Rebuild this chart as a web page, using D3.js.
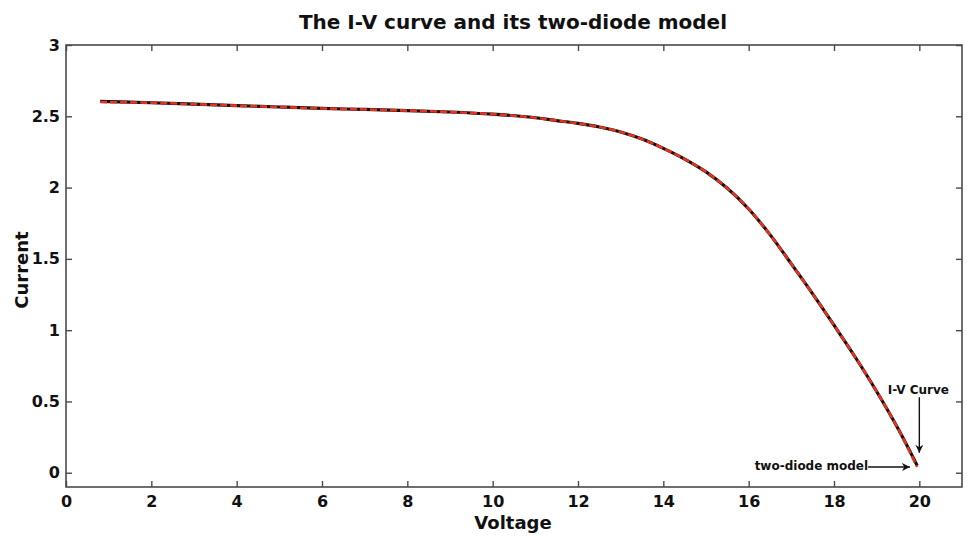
<!DOCTYPE html>
<html>
<head>
<meta charset="utf-8">
<script src="https://cdn.jsdelivr.net/npm/d3@7"></script>
<style>
  body { margin: 0; background: #fff; }
  svg { display: block; }
  text { font-family: "DejaVu Sans", "Liberation Sans", Arial, sans-serif; font-weight: bold; fill: #111; }
</style>
</head>
<body>
<svg id="chart" width="967" height="542"></svg>
<script>
// ---- data ----
const voltage = [0.8, 2, 3, 4, 5, 6, 7, 8, 9, 10, 11, 11.5, 12, 12.5, 13, 13.5, 14, 14.5, 15, 15.5, 16, 16.5, 17, 17.5, 18, 18.5, 19, 19.5, 19.95];
const ivCurrent = [2.605, 2.595, 2.585, 2.575, 2.565, 2.555, 2.548, 2.54, 2.53, 2.515, 2.49, 2.47, 2.45, 2.425, 2.39, 2.34, 2.275, 2.2, 2.11, 1.995, 1.85, 1.67, 1.465, 1.255, 1.035, 0.81, 0.57, 0.31, 0.05];
const modelCurrent = [2.6, 2.595, 2.585, 2.575, 2.565, 2.555, 2.548, 2.54, 2.53, 2.515, 2.49, 2.47, 2.45, 2.425, 2.39, 2.34, 2.275, 2.2, 2.11, 1.995, 1.85, 1.67, 1.465, 1.255, 1.035, 0.81, 0.57, 0.31, 0.04];
const xTicks = [0, 2, 4, 6, 8, 10, 12, 14, 16, 18, 20];
const yTicks = [0, 0.5, 1, 1.5, 2, 2.5, 3];
const title = "The I-V curve and its two-diode model";
const xLabel = "Voltage";
const yLabel = "Current";
const ivLabel = "I-V Curve";
const modelLabel = "two-diode model";

// ---- layout ----
const svg = d3.select("#chart");
const mLeft = 66, mRight = 962, mTop = 45, mBottom = 487;
const x = d3.scaleLinear().domain([0, 21]).range([mLeft, mRight]);
const y = d3.scaleLinear().domain([-0.1, 3]).range([mBottom, mTop]);
const axisColor = "#4a4a4a";

// title
svg.append("text").attr("x", 513).attr("y", 29).attr("text-anchor", "middle")
  .attr("font-size", 20).text(title);

// axes with inward ticks
const fmt = d => d3.format("")(d);
const gx = svg.append("g").attr("transform", `translate(0,${mBottom})`)
  .call(d3.axisBottom(x).tickValues(xTicks).tickSizeInner(-6).tickSizeOuter(0).tickPadding(9).tickFormat(fmt));
const gxTop = svg.append("g").attr("transform", `translate(0,${mTop})`)
  .call(d3.axisTop(x).tickValues(xTicks).tickSizeInner(-6).tickSizeOuter(0).tickFormat(""));
const gy = svg.append("g").attr("transform", `translate(${mLeft},0)`)
  .call(d3.axisLeft(y).tickValues(yTicks).tickSizeInner(-6).tickSizeOuter(0).tickPadding(6).tickFormat(fmt));
const gyRight = svg.append("g").attr("transform", `translate(${mRight},0)`)
  .call(d3.axisRight(y).tickValues(yTicks).tickSizeInner(-6).tickSizeOuter(0).tickFormat(""));

[gx, gxTop, gy, gyRight].forEach(g => {
  g.select(".domain").remove();
  g.selectAll(".tick line").attr("stroke", axisColor).attr("stroke-width", 1.4);
  g.selectAll(".tick text").attr("font-size", 16).attr("font-weight", "bold").attr("fill", "#111")
    .attr("font-family", "DejaVu Sans, Liberation Sans, Arial, sans-serif");
});

// frame
svg.append("rect").attr("x", mLeft).attr("y", mTop).attr("width", mRight - mLeft).attr("height", mBottom - mTop)
  .attr("fill", "none").attr("stroke", axisColor).attr("stroke-width", 1.6);

// axis labels
svg.append("text").attr("x", 513).attr("y", 529).attr("text-anchor", "middle")
  .attr("font-size", 18).text(xLabel);
svg.append("text").attr("transform", `translate(28,${(mTop + mBottom) / 2 + 4}) rotate(-90)`)
  .attr("text-anchor", "middle").attr("font-size", 18).text(yLabel);

// curves
const line = d3.line().curve(d3.curveCatmullRom.alpha(0.5));
const ivPts = voltage.map((v, i) => [x(v), y(ivCurrent[i])]);
const modelPts = voltage.map((v, i) => [x(v), y(modelCurrent[i])]);
svg.append("path").attr("d", line(ivPts)).attr("fill", "none").attr("stroke", "#111").attr("stroke-width", 3.2);
svg.append("path").attr("d", line(modelPts)).attr("fill", "none").attr("stroke", "#e8321e")
  .attr("stroke-width", 2.6).attr("stroke-dasharray", "7,3");

// annotations
const defs = svg.append("defs");
defs.append("marker").attr("id", "arr").attr("viewBox", "0 0 10 10").attr("refX", 10).attr("refY", 5)
  .attr("markerWidth", 8).attr("markerHeight", 8).attr("orient", "auto").attr("markerUnits", "userSpaceOnUse")
  .append("path").attr("d", "M0,0 L10,5 L0,10 L3,5 Z").attr("fill", "#111");

const ivX = x(20.0);
svg.append("text").attr("x", ivX - 1).attr("y", y(0.555)).attr("text-anchor", "middle")
  .attr("font-size", 12).text(ivLabel);
svg.append("line").attr("x1", ivX).attr("y1", y(0.53)).attr("x2", ivX).attr("y2", y(0.14))
  .attr("stroke", "#111").attr("stroke-width", 1.4).attr("marker-end", "url(#arr)");
svg.append("text").attr("x", x(18.8)).attr("y", y(0.02)).attr("text-anchor", "end")
  .attr("font-size", 12).text(modelLabel);
svg.append("line").attr("x1", x(18.8)).attr("y1", y(0.04)).attr("x2", x(19.78)).attr("y2", y(0.04))
  .attr("stroke", "#111").attr("stroke-width", 1.4).attr("marker-end", "url(#arr)");
</script>
</body>
</html>
